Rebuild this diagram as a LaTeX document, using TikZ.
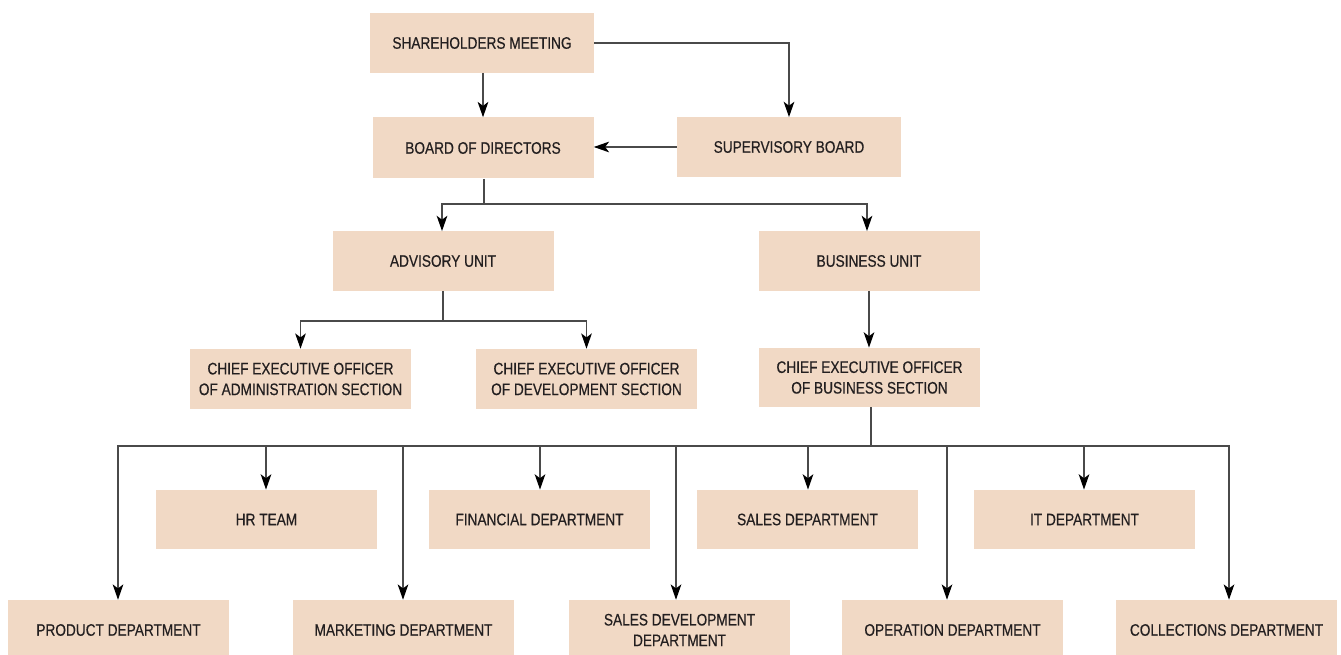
\documentclass[tikz,border=0pt]{standalone}
\usepackage{fontspec}
\setmainfont{Liberation Sans}[FakeStretch=0.82,FakeBold=0.4]
\usetikzlibrary{arrows.meta}
\definecolor{boxfill}{HTML}{F1D9C5}
\definecolor{txt}{HTML}{231F20}
\definecolor{ln}{HTML}{4A4A4A}
\begin{document}
\begin{tikzpicture}[x=0.75pt,y=-0.75pt,
  box/.style={fill=boxfill,draw=none,text=txt,align=center,
    minimum width=165.75pt,minimum height=44.5pt,inner sep=0pt,
    font=\fontsize{12.5}{15.5}\selectfont},
  conn/.style={draw=ln,line width=0.9pt},
  arr/.style={conn,-{Stealth[length=11.5pt,width=8pt,inset=3pt,color=black,fill=black]}}]
\useasboundingbox (0,0) rectangle (1341,655);
\node[box,minimum width=168pt] (sh) at (482,43) {SHAREHOLDERS MEETING};
\node[box,minimum height=45.75pt] (bd) at (483,148) {BOARD OF DIRECTORS};
\node[box,minimum width=168pt] (sb) at (789,147) {SUPERVISORY BOARD};
\node[box] (au) at (443,261) {ADVISORY UNIT};
\node[box] (bu) at (869,261) {BUSINESS UNIT};
\node[box,minimum height=45pt] (ca) at (300.5,379) {CHIEF EXECUTIVE OFFICER\\OF ADMINISTRATION SECTION};
\node[box,minimum height=45pt] (cd) at (586.5,379) {CHIEF EXECUTIVE OFFICER\\OF DEVELOPMENT SECTION};
\node[box] (cb) at (869.5,377.5) {CHIEF EXECUTIVE OFFICER\\OF BUSINESS SECTION};
\node[box] (hr) at (266.5,519.5) {HR TEAM};
\node[box] (fi) at (539.5,519.5) {FINANCIAL DEPARTMENT};
\node[box] (sa) at (807.5,519.5) {SALES DEPARTMENT};
\node[box] (it) at (1084.5,519.5) {IT DEPARTMENT};
\node[box,minimum height=45pt] (pr) at (118.5,630) {PRODUCT DEPARTMENT};
\node[box,minimum height=45pt] (ma) at (403.5,630) {MARKETING DEPARTMENT};
\node[box,minimum height=45pt] (sd) at (679.5,630) {SALES DEVELOPMENT\\DEPARTMENT};
\node[box,minimum height=45pt] (op) at (952.5,630) {OPERATION DEPARTMENT};
\node[box,minimum height=45pt] (co) at (1226.5,630) {COLLECTIONS DEPARTMENT};
\coordinate (j1) at (484,204);
\coordinate (j2) at (443,321);
\coordinate (j3) at (871,446);
\coordinate (du) at (442,204);
\coordinate (db) at (867,204);
% top
\draw[arr] (sh.south -| bd.north) -- (bd.north);
\draw[arr] (sh.east) -| (sb.north);
\draw[arr] (sb.west) -- (sb.west -| bd.east);
% board to units
\draw[conn] (bd.south -| j1) -- (j1);
\draw[arr] (j1) -- (du) -- (du |- au.north);
\draw[arr] (j1) -- (db) -- (db |- bu.north);
% advisory to CEOs
\draw[conn] (au.south) -- (j2);
\draw[arr] (j2) -| (ca.north);
\draw[arr] (j2) -| (cd.north);
% business
\draw[arr] (bu.south) -- (cb.north -| bu.south);
\draw[conn] (cb.south -| j3) -- (j3);
\foreach \n/\x in {pr/118,hr/266,ma/403,fi/540,sd/676,sa/808,op/947,it/1084,co/1229}{
  \coordinate (d\n) at (\x,446);
  \draw[arr] (j3) -- (d\n) -- (d\n |- \n.north);
}
\end{tikzpicture}
\end{document}
